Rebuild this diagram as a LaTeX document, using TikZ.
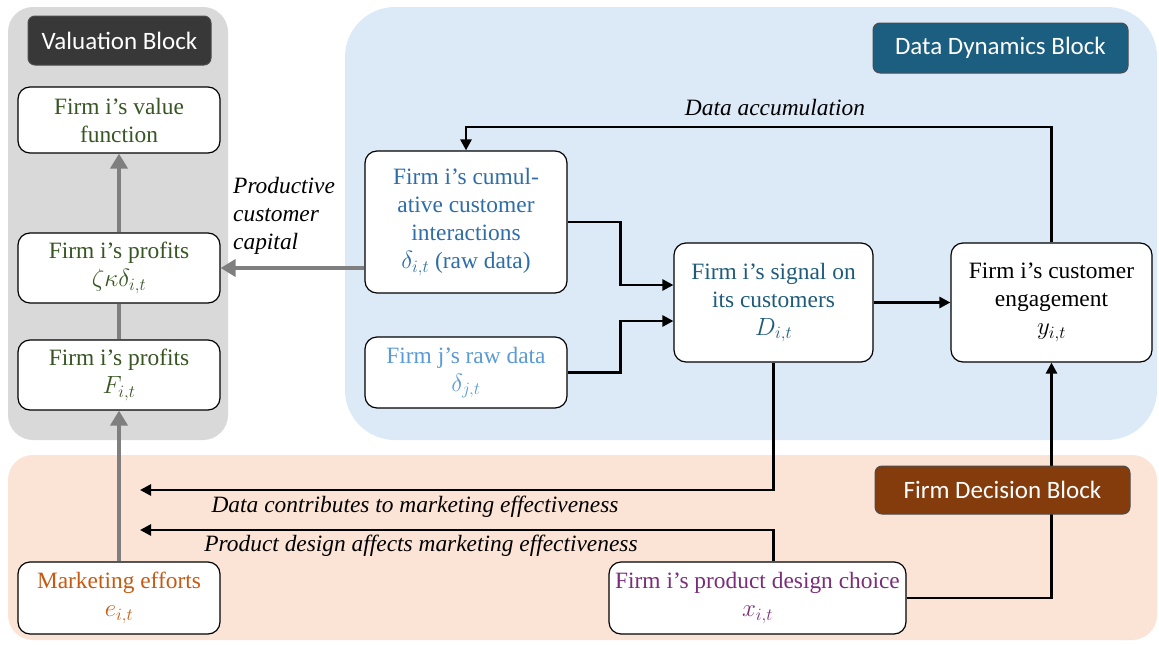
\documentclass[tikz,border=0pt]{standalone}
\usepackage{fontspec}
\setmainfont{Liberation Serif}
\newfontfamily\tagfont{Carlito}
\usepackage{tikz}
\usetikzlibrary{arrows.meta}

\definecolor{valgray}{HTML}{D9D9D9}
\definecolor{datablue}{HTML}{DCE9F6}
\definecolor{decorange}{HTML}{FBE3D6}
\definecolor{valtagc}{HTML}{383838}
\definecolor{datatagc}{HTML}{1B5E80}
\definecolor{dectagc}{HTML}{843C0C}
\definecolor{valtext}{HTML}{375623}
\definecolor{cumtext}{HTML}{2E6DA8}
\definecolor{rawtext}{HTML}{5B9BD5}
\definecolor{sigtext}{HTML}{1F5C7C}
\definecolor{efftext}{HTML}{C55A11}
\definecolor{destext}{HTML}{7A2E7A}
\definecolor{arrgray}{HTML}{7F7F7F}

\newcommand{\mth}[1]{{\fontsize{27}{28}\selectfont$#1$}}

\tikzset{
  box/.style={draw, line width=1.2pt, fill=white, rounded corners=12pt,
    align=center, inner sep=2pt, font=\fontsize{23.4}{28}\selectfont},
  tagbox/.style={draw=black!70, line width=1pt, rounded corners=7pt,
    text=white, font=\tagfont\fontsize{25}{28}\selectfont, inner sep=0pt},
  lab/.style={font=\itshape\fontsize{23.4}{28}\selectfont, inner sep=0pt},
  link/.style={line width=2.6pt, -{Triangle[length=11pt,width=11pt]}},
  garrow/.style={line width=4.5pt, arrgray, -{Triangle[length=15pt,width=17pt]}},
  gline/.style={line width=4.5pt, arrgray}
}

\begin{document}
\begin{tikzpicture}[x=1pt,y=-1pt]

  \useasboundingbox (0,0) rectangle (1159,645);

  % background blocks
  \fill[valgray, rounded corners=25pt] (8,7) rectangle (228,440);
  \fill[datablue, rounded corners=50pt] (345,7) rectangle (1157,440);
  \fill[decorange, rounded corners=25pt] (8,455) rectangle (1157,640);

  \node[tagbox, fill=valtagc, minimum width=183pt, minimum height=49pt] (valtag) at (119.5,40.5) {Valuation Block};
  \node[tagbox, fill=datatagc, minimum width=255pt, minimum height=50pt] (datatag) at (1000.5,48) {Data Dynamics Block};

  % valuation block
  \node[box, text=valtext, minimum width=202pt, minimum height=66pt] (valfun) at (119,120) {Firm i’s value\\function};
  \node[box, text=valtext, minimum width=202pt, minimum height=70pt] (prof) at (119,268) {Firm i’s profits\\\mth{\zeta\kappa\delta_{i,t}}};
  \node[box, text=valtext, minimum width=202pt, minimum height=70pt] (proff) at (119,375) {Firm i’s profits\\\mth{F_{i,t}}};

  % data dynamics block
  \node[box, text=cumtext, minimum width=202pt, minimum height=142pt] (cumul) at (466,222) {Firm i’s cumul-\\ative customer\\interactions\\\mth{\delta_{i,t}} (raw data)};
  \node[box, text=rawtext, minimum width=202pt, minimum height=71pt] (rawj) at (466,372.5) {Firm j’s raw data\\\mth{\delta_{j,t}}};
  \node[box, text=sigtext, minimum width=199pt, minimum height=119pt] (signal) at (773.5,302.5) {Firm i’s signal on\\its customers\\\mth{D_{i,t}}};
  \node[box, minimum width=201pt, minimum height=119pt] (engage) at (1051.5,302.5) {Firm i’s customer\\engagement\\\mth{y_{i,t}}};

  % firm decision block
  \node[box, text=efftext, minimum width=202pt, minimum height=72pt] (effort) at (119,598) {Marketing efforts\\\mth{e_{i,t}}};
  \node[box, text=destext, minimum width=297pt, minimum height=72pt] (design) at (757.5,598) {Firm i’s product design choice\\\mth{x_{i,t}}};

  \coordinate (dataend) at (140,490);
  \coordinate (designend) at (140,530);

  \draw[link] (cumul.east) -- ++(53,0) |- ([yshift=17.5pt]signal.west);
  \draw[link] (rawj.east) -- ++(53,0) |- ([yshift=-18.5pt]signal.west);
  \draw[link] (signal) -- (engage);
  \draw[link] (engage.north) -- (engage.north |- 0,127) -| (cumul.north);
  \draw[link] (signal.south) |- (dataend);
  \draw[link] (design.north -| signal.south) |- (designend);
  \draw[link] (design.east) -| (engage.south);

  \draw[garrow] (cumul.west |- prof.east) -- (prof.east);
  \draw[garrow] (prof) -- (valfun);
  \draw[gline] (proff) -- (prof);
  \draw[garrow] (effort) -- (proff);

  \node[tagbox, fill=dectagc, minimum width=255pt, minimum height=48pt] (dectag) at (1002.5,490) {Firm Decision Block};

  % labels
  \node[lab] (acclab) at (775,108) {Data accumulation};
  \node[lab, align=left, anchor=north west] (caplab) at (233,177) {Productive\\customer\\capital};
  \node[lab] (datalab) at (415,507) {Data contributes to marketing effectiveness};
  \node[lab] (designlab) at (421,546) {Product design affects marketing effectiveness};

\end{tikzpicture}
\end{document}
